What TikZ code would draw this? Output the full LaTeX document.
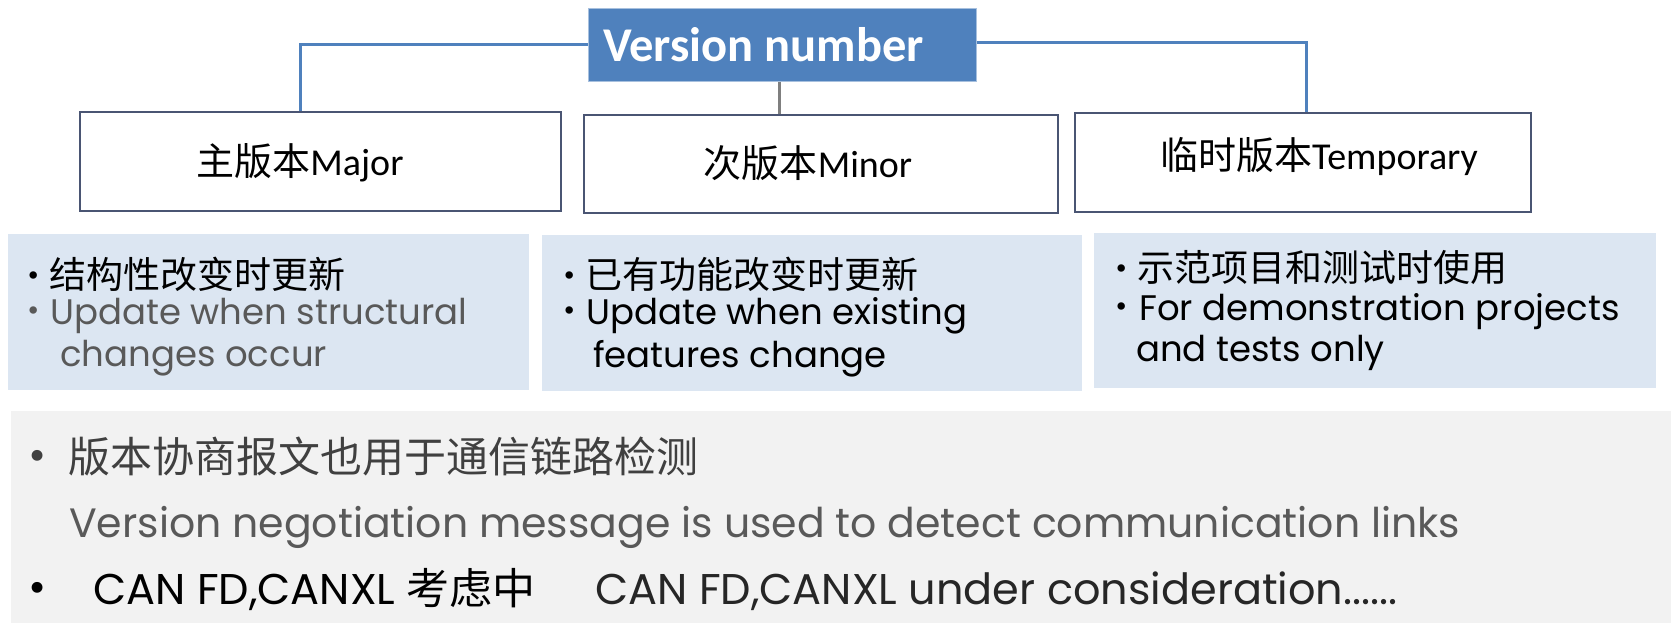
\documentclass[tikz,border=0pt]{standalone}
\usepackage{fontspec}
\setmainfont{Carlito}
\newfontfamily\cjk{Noto Sans CJK SC}
\newfontfamily\gothic{Poppins}
\newfontfamily\calib{Carlito}
\definecolor{vnblue}{HTML}{4F81BD}
\definecolor{vnedge}{HTML}{A7C0DE}
\definecolor{boxedge}{HTML}{4A5573}
\definecolor{lightbox}{HTML}{DCE6F2}
\definecolor{bottomgray}{HTML}{F2F2F2}
\definecolor{txtgray}{HTML}{595959}
\definecolor{txtdark}{HTML}{404040}
\definecolor{txtnear}{HTML}{262626}
\definecolor{midline}{HTML}{7F7F7F}
\tikzset{
  catbox/.style={draw=boxedge, line width=1.3pt, fill=white},
  notebox/.style={fill=lightbox},
  catlabel/.style={inner sep=0pt, font=\calib\fontsize{38}{44}\selectfont},
  bul/.style={inner sep=0pt, anchor=base west, font=\gothic\fontsize{35.5}{40}\selectfont},
  bulcjk/.style={inner sep=0pt, anchor=base west, font=\cjk\fontsize{37}{42}\selectfont},
  dot/.style={inner sep=0pt, anchor=base west, font=\gothic\fontsize{30}{34}\selectfont},
  bigdot/.style={inner sep=0pt, anchor=base west, font=\gothic\fontsize{44}{48}\selectfont},
  big/.style={inner sep=0pt, anchor=base west, font=\gothic\fontsize{41}{46}\selectfont},
  bigger/.style={inner sep=0pt, anchor=base west, font=\gothic\fontsize{43}{48}\selectfont},
  bigcjk/.style={inner sep=0pt, anchor=base west, font=\cjk\fontsize{42}{48}\selectfont},
  bluelink/.style={draw=vnblue, line width=3pt},
  graylink/.style={draw=midline, line width=3pt}
}
\begin{document}
\begin{tikzpicture}[x=1pt,y=-1pt]
\useasboundingbox (0,0) rectangle (1671,623);
% top
\node[draw=vnedge, line width=1pt, fill=vnblue, minimum width=388pt, minimum height=73pt, inner sep=0pt] (vn) at (782,45.5) {};
\node[inner sep=0pt, anchor=west, text=white, font=\calib\bfseries\fontsize{48.5}{54}\selectfont] (vnt) at (603,45) {Version number};
\node[catbox, minimum width=481pt, minimum height=99pt, inner sep=0pt] (major) at (320.5,161.5) {};
\node[catbox, minimum width=474pt, minimum height=98pt, inner sep=0pt] (minor) at (821,164) {};
\node[catbox, minimum width=456pt, minimum height=99pt, inner sep=0pt] (temp) at (1303,162.5) {};
\node[catlabel] (majort) at (300,163) {{\cjk 主版本}Major};
\node[catlabel] (minort) at (808,163) {{\cjk 次版本}Minor};
\node[catlabel] (tempt) at (1319,157) {{\cjk 临时版本}Temporary};
\coordinate (l1) at (300,45);
\coordinate (r1) at (1306,43);
\draw[bluelink] (vn.west |- l1) -- (l1) -- (l1 |- major.north);
\draw[bluelink] (vn.east |- r1) -- (r1) -- (r1 |- temp.north);
\draw[graylink] (vn.south -| 779,0) -- (minor.north -| 779,0);
% note boxes
\node[notebox, minimum width=521pt, minimum height=156pt, inner sep=0pt] (n1) at (268.5,312) {};
\node[notebox, minimum width=540pt, minimum height=156pt, inner sep=0pt] (n2) at (812,313) {};
\node[notebox, minimum width=562pt, minimum height=155pt, inner sep=0pt] (n3) at (1375,310.5) {};
\node[dot] (n1ad) at (27,285) {•};
\node[bulcjk] (n1a) at (49,288) {结构性改变时更新};
\node[dot, text=txtgray] (n1bd) at (27,320) {•};
\node[bul, text=txtgray] (n1b) at (50,324) {Update when structural};
\node[bul, text=txtgray] (n1c) at (60,366) {changes occur};
\node[dot] (n2ad) at (563,285) {•};
\node[bulcjk] (n2a) at (585,288) {已有功能改变时更新};
\node[dot] (n2bd) at (563,320) {•};
\node[bul] (n2b) at (586,324) {Update when existing};
\node[bul] (n2c) at (593,367) {features change};
\node[dot] (n3ad) at (1115,278) {•};
\node[bulcjk] (n3a) at (1137,281) {示范项目和测试时使用};
\node[dot] (n3bd) at (1115,316) {•};
\node[bul] (n3b) at (1139,320) {For demonstration projects};
\node[bul] (n3c) at (1136,361) {and tests only};
% bottom
\node[fill=bottomgray, minimum width=1660pt, minimum height=212pt, inner sep=0pt] (bot) at (841,517) {};
\node[bigdot, text=txtdark] (b1d) at (28,470) {•};
\node[bigcjk, text=txtdark] (b1) at (68,472) {版本协商报文也用于通信链路检测};
\node[big, text=txtgray] (b2) at (69,537) {Version negotiation message is used to detect communication links};
\node[bigdot, text=black] (b3d) at (28,602) {•};
\node[bigger, text=black] (b3) at (93,604) {CAN FD,CANXL {\cjk 考虑中}};
\node[bigger, text=txtnear] (b4) at (595,604) {CAN FD,CANXL under consideration......};
\end{tikzpicture}
\end{document}
